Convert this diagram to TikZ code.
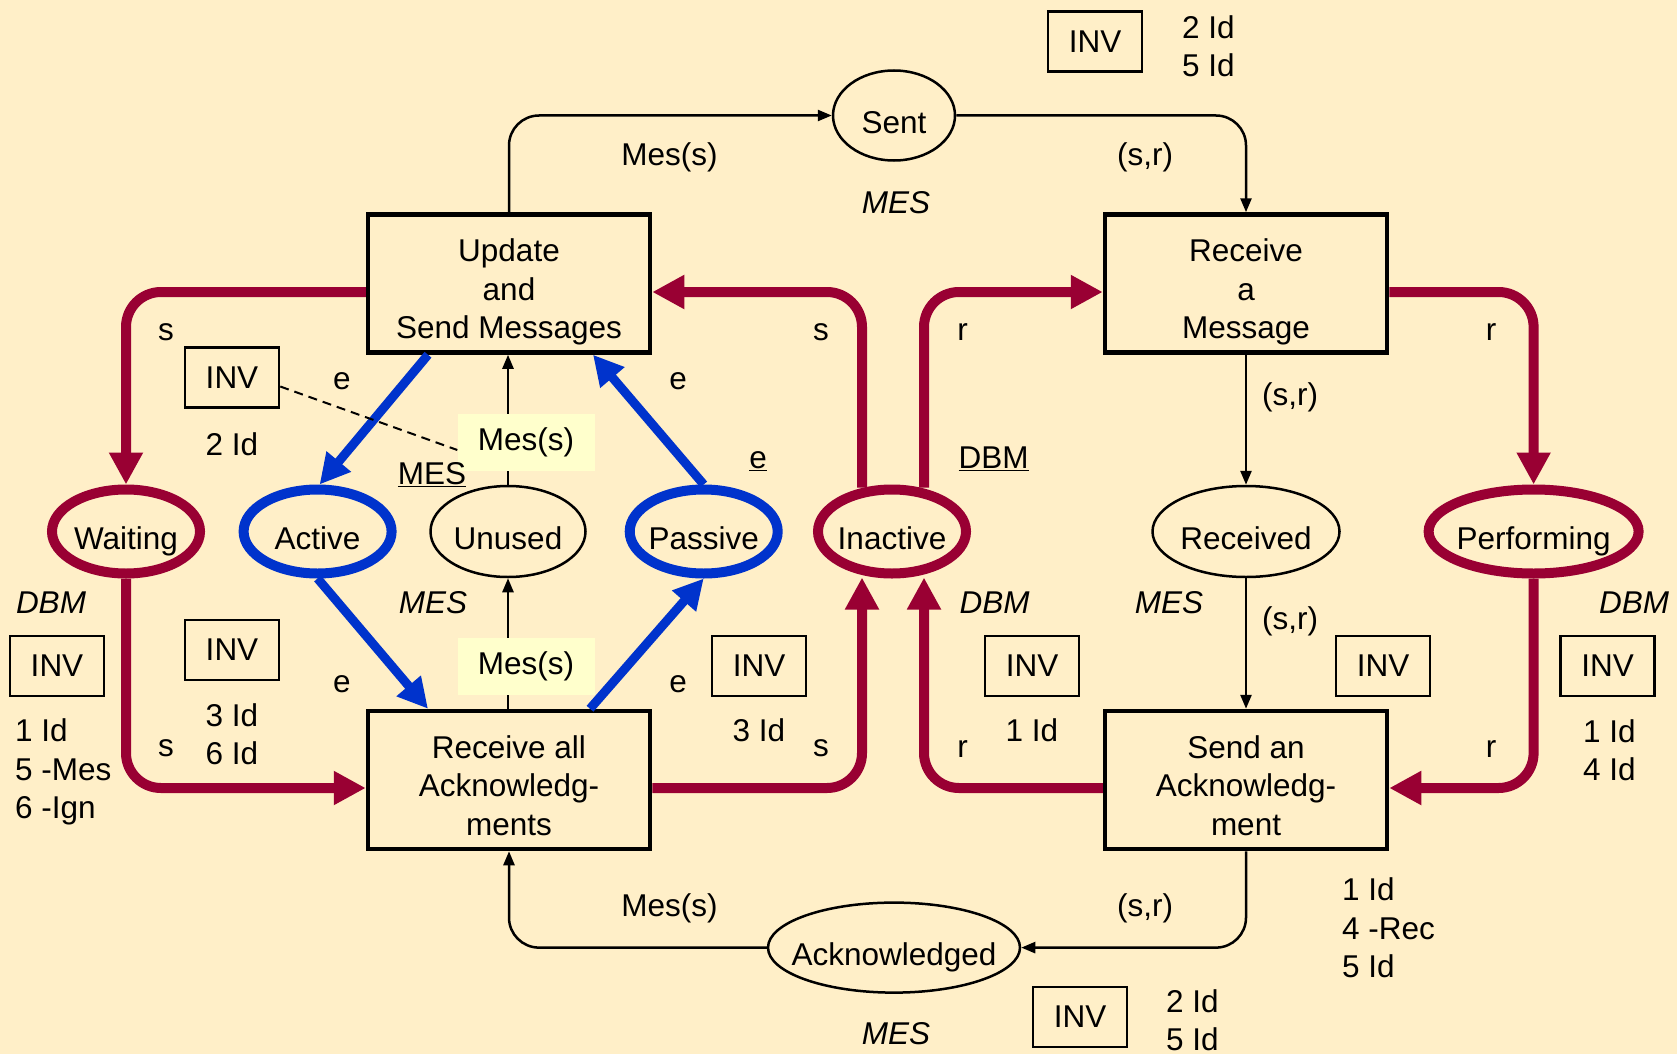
\documentclass[tikz,border=0pt]{standalone}
\usepackage{fontspec}
\setmainfont{Liberation Sans}
\usetikzlibrary{arrows.meta,calc,shapes.geometric}
\definecolor{bg}{HTML}{FFEFC8}
\definecolor{dred}{HTML}{990033}
\definecolor{dblue}{HTML}{0033CC}
\definecolor{hl}{HTML}{FFFFCC}
\begin{document}
\begin{tikzpicture}[x=1pt,y=-1pt,
  every node/.style={font=\fontsize{31.5}{38.5}\selectfont, inner sep=0pt},
  trans/.style={draw, line width=4.5pt, minimum width=282pt, minimum height=138pt},
  ttext/.style={align=center},
  ptext/.style={ellipse, text height=35pt, text depth=0pt},
  place/.style={ptext, draw, line width=2.5pt},
  rplace/.style={ptext, draw=dred, line width=10pt, minimum width=148pt, minimum height=84pt},
  bplace/.style={ptext, draw=dblue, line width=10pt, minimum width=148pt, minimum height=84pt},
  inv/.style={draw, line width=2.5pt, minimum width=94pt, minimum height=60pt},
  redarc/.style={draw=dred, line width=10pt, rounded corners=35pt, -{Triangle[length=32pt,width=32pt]}},
  bluearc/.style={draw=dblue, line width=9pt, -{Triangle[length=30pt,width=30pt]}},
  thinarc/.style={draw, line width=2.5pt, rounded corners=30pt, -{Triangle[length=14pt,width=11pt]}},
  ital/.style={font=\fontsize{31.5}{38.5}\selectfont\itshape},
  mesbox/.style={fill=hl, minimum width=137pt, minimum height=57pt},
]
\path[use as bounding box, fill=bg] (0,0) rectangle (1677,1054);

% transitions
\node[trans] (upd) at (509,283.5) {};
\node[trans] (rmsg) at (1246,283.5) {};
\node[trans] (rall) at (509,780) {};
\node[trans] (sack) at (1246,780) {};
\node[ttext] (updt) at ($(upd.center)+(0,8.5)$) {Update\\and\\Send Messages};
\node[ttext] (rmsgt) at ($(rmsg.center)+(0,8.5)$) {Receive\\a\\Message};
\node[ttext] (rallt) at ($(rall.center)+(0,5.5)$) {Receive all\\Acknowledg-\\ments};
\node[ttext] (sackt) at ($(sack.center)+(0,5.5)$) {Send an\\Acknowledg-\\ment};

% places
\node[place, minimum width=122pt, minimum height=90pt] (sent) at (894,115.5) {\makebox[0pt]{Sent}};
\node[place, minimum width=252pt, minimum height=90pt] (ack) at (894,947.6) {\makebox[0pt]{Acknowledged}};
\node[rplace] (wait) at (126,531.5) {\makebox[0pt]{Waiting}};
\node[bplace] (act) at (317.6,531.5) {\makebox[0pt]{Active}};
\node[place, minimum width=155pt, minimum height=91pt] (uns) at (508,531.5) {\makebox[0pt]{Unused}};
\node[bplace] (pas) at (703.7,531.5) {\makebox[0pt]{Passive}};
\node[rplace] (inact) at (892,531.5) {\makebox[0pt]{Inactive}};
\node[place, minimum width=187pt, minimum height=91pt] (recv) at (1246,531.5) {\makebox[0pt]{Received}};
\node[rplace, minimum width=210pt] (perf) at (1533.6,531.5) {\makebox[0pt]{Performing}};

% red arcs
\coordinate (rt) at (0,292);
\coordinate (rb) at (0,788);
\draw[redarc] (upd.west |- rt) -| (wait.north);
\draw[redarc] (wait.south) |- (rall.west |- rb);
\draw[redarc] (rall.east |- rb) -| ($(inact.center)+(-30,46)$);
\draw[redarc] ($(inact.center)+(-30,-44)$) |- (upd.east |- rt);
\draw[redarc] ($(inact.center)+(32,-44)$) |- (rmsg.west |- rt);
\draw[redarc] (rmsg.east |- rt) -| (perf.north);
\draw[redarc] (perf.south) |- (sack.east |- rb);
\draw[redarc] (sack.west |- rb) -| ($(inact.center)+(32,46)$);

% blue arcs
\draw[bluearc] ($(upd.south)+(-81,0)$) -- ($(act.north)+(2,0)$);
\draw[bluearc] (pas.north) -- ($(upd.south)+(84,0)$);
\draw[bluearc] (act.south) -- ($(rall.north)+(-81,0)$);
\draw[bluearc] ($(rall.north)+(81,0)$) -- (pas.south);

% thin arcs
\draw[thinarc] (uns.north) -- (uns.north |- upd.south);
\draw[thinarc] (uns.south |- rall.north) -- (uns.south);
\draw[thinarc] (upd.north) |- (sent.west);
\draw[thinarc] (sent.east) -| (rmsg.north);
\draw[thinarc] (rmsg.south) -- (recv.north);
\draw[thinarc] (recv.south) -- (sack.north);
\draw[thinarc] (sack.south) |- (ack.east);
\draw[thinarc] (ack.west) -| (rall.south);

% highlighted inscriptions
\node[mesbox] (mes1) at (526,442) {Mes(s)};
\node[mesbox] (mes2) at (526,666) {Mes(s)};

% arc inscriptions
\node (a1) at (669.5,157) {Mes(s)};
\node (a2) at (1145,157) {(s,r)};
\node (a3) at (669.5,908) {Mes(s)};
\node (a4) at (1145,908) {(s,r)};
\node (a5) at (1290,397) {(s,r)};
\node (a6) at (1290,621) {(s,r)};
\node (s1) at (166,332.5) {s};
\node (s2) at (166,748.6) {s};
\node (s3) at (821,332.5) {s};
\node (s4) at (821,748.6) {s};
\node (r1) at (962.6,332.5) {r};
\node (r2) at (962.6,748.6) {r};
\node (r3) at (1491,332.5) {r};
\node (r4) at (1491,748.6) {r};
\node (e1) at (342,381) {e};
\node (e2) at (678,381) {e};
\node (e3) at (342,684) {e};
\node (e4) at (678,684) {e};

% colour sets
\node[ital] (c1) at (896,203) {MES};
\node[ital] (c2) at (896,1034) {MES};
\node[ital] (c3) at (51,603) {DBM};
\node[ital] (c4) at (433,603) {MES};
\node[ital] (c5) at (994.6,603) {DBM};
\node[ital] (c6) at (1169,603) {MES};
\node[ital] (c7) at (1634,603) {DBM};
\node (u1) at (432,474.8) {\underline{MES}};
\node (u2) at (758,461) {\underline{e}};
\node (u3) at (993.6,458.7) {\underline{DBM}};

% invariants
\node[inv] (i1) at (1095,41.7) {INV};
\node[anchor=west, align=left] (t1) at (1182,46.4) {2 Id\\5 Id};
\node[inv] (i2) at (232,377.5) {INV};
\node (t2) at (232,443.8) {2 Id};
\node[inv] (i3) at (57,666) {INV};
\node[anchor=west, align=left] (t3) at (15,772) {1 Id\\5 -Mes\\6 -Ign};
\node[inv] (i4) at (232,650) {INV};
\node[align=center] (t4) at (232,734) {3 Id\\6 Id};
\node[inv] (i5) at (759,666) {INV};
\node (t5) at (759,730.5) {3 Id};
\node[inv] (i6) at (1032,666) {INV};
\node (t6) at (1032,730.5) {1 Id};
\node[inv] (i7) at (1383,666) {INV};
\node[anchor=west, align=left] (t7) at (1342,928) {1 Id\\4 -Rec\\5 Id};
\node[inv] (i8) at (1607.5,666) {INV};
\node[anchor=west, align=left] (t8) at (1583,750) {1 Id\\4 Id};
\node[inv] (i9) at (1080,1017) {INV};
\node[anchor=west, align=left] (t9) at (1166,1020) {2 Id\\5 Id};

\draw[line width=2pt, dash pattern=on 9pt off 6pt] ($(i2.east)+(0,9)$) -- ($(mes1.west)+(0,8)$);
\end{tikzpicture}
\end{document}
